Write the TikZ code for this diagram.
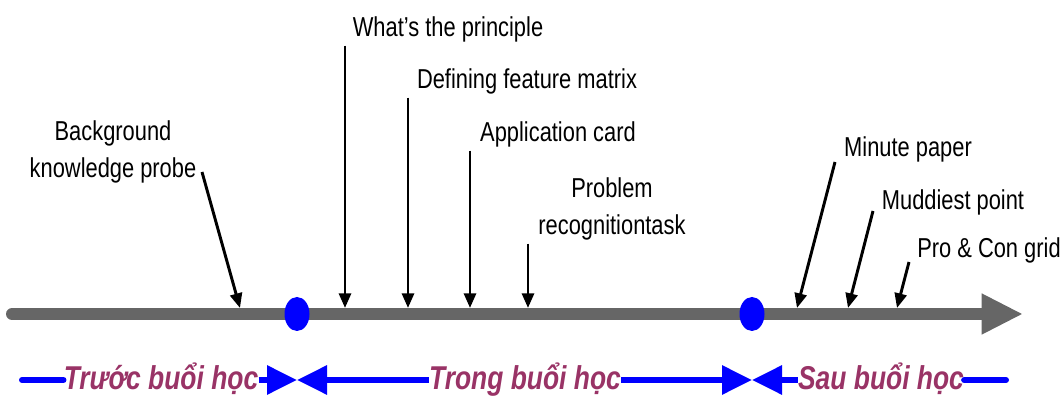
\documentclass[tikz,border=0pt]{standalone}
\usepackage{fontspec}
\setmainfont{Liberation Sans}[FakeStretch=0.8]
\newfontfamily\phasefont{Liberation Sans}[FakeStretch=0.8]
\usetikzlibrary{arrows.meta,shapes.geometric}
\definecolor{axisgray}{RGB}{102,102,102}
\definecolor{phasered}{RGB}{153,51,102}

\begin{document}
\begin{tikzpicture}[x=0.75pt, y=-0.75pt,
            tool/.style={font=\fontsize{20.5}{28}\selectfont, anchor=base, align=center, inner sep=2pt},
            pointer/.style={draw=black, line width=2.2pt, -{Triangle[length=11pt, width=9pt]}},
            axis/.style={draw=axisgray, line width=9pt, line cap=round, -{Triangle[length=31pt, width=28.5pt]}},
            stage/.style={ellipse, fill=blue, minimum width=18.75pt, minimum height=25.5pt, inner sep=0pt},
            phase/.style={font=\phasefont\fontsize{24.75}{28}\selectfont\bfseries\itshape, text=phasered, anchor=base, inner sep=0pt},
            span/.style={draw=blue, line width=4.5pt},
            bound/.style={span, -{Triangle[length=22.5pt, width=21pt]}}
        ]
            \useasboundingbox (0,0) rectangle (1061,398);

            % Timeline
            \coordinate (axisL) at (12,314);
            \coordinate (axisR) at (1023,314);
            \draw[axis] (axisL) -- (axisR);
            \node[stage] (startClass) at (297,314) {};
            \node[stage] (endClass) at (752,314) {};

            % Labels
            \node[tool] (bg) at (113,178) {Background\\knowledge probe};
            \node[tool] (what) at (448,37) {What's the principle};
            \node[tool] (dfm) at (527,89) {Defining feature matrix};
            \node[tool] (app) at (558,142) {Application card};
            \node[tool] (prob) at (612,235) {Problem\\recognitiontask};
            \node[tool] (minute) at (908,157) {Minute paper};
            \node[tool] (muddy) at (953,210) {Muddiest point};
            \node[tool] (procon) at (989,258) {Pro \& Con grid};

            % Arrow ends
            \coordinate (bgS) at (202,172);
            \coordinate (bgE) at (240,308);
            \coordinate (whatE) at (345,308);
            \coordinate (dfmE) at (408,308);
            \coordinate (appE) at (470,308);
            \coordinate (probE) at (528,308);
            \coordinate (minuteS) at (835,162);
            \coordinate (minuteE) at (797,308);
            \coordinate (muddyS) at (873,211);
            \coordinate (muddyE) at (848,308);
            \coordinate (proconS) at (909,262);
            \coordinate (proconE) at (897,308);

            % Arrows
            \draw[pointer] (bgS) -- (bgE);
            \foreach \n in {what, dfm, app, prob} {
                \draw[pointer] (\n E |- \n.south) -- (\n E);
            }
            \foreach \n in {minute, muddy, procon} {
                \draw[pointer] (\n S) -- (\n E);
            }

            % Phases
            \node[phase] (before) at (161,390) {Trước buổi học};
            \node[phase] (during) at (525,390) {Trong buổi học};
            \node[phase] (after) at (881,390) {Sau buổi học};
            \coordinate (spanL) at (22,380);
            \coordinate (spanR) at (1006,380);
            \coordinate (b1) at (297,380);
            \coordinate (b2) at (752,380);
            \draw[span, line cap=round] (spanL) -- (before.west |- spanL);
            \draw[bound] (before.east |- b1) -- (b1);
            \draw[bound] (during.west |- b1) -- (b1);
            \draw[bound] (during.east |- b2) -- (b2);
            \draw[bound] (after.west |- b2) -- (b2);
            \draw[span, line cap=round] (after.east |- spanR) -- (spanR);
        \end{tikzpicture}
\end{document}
